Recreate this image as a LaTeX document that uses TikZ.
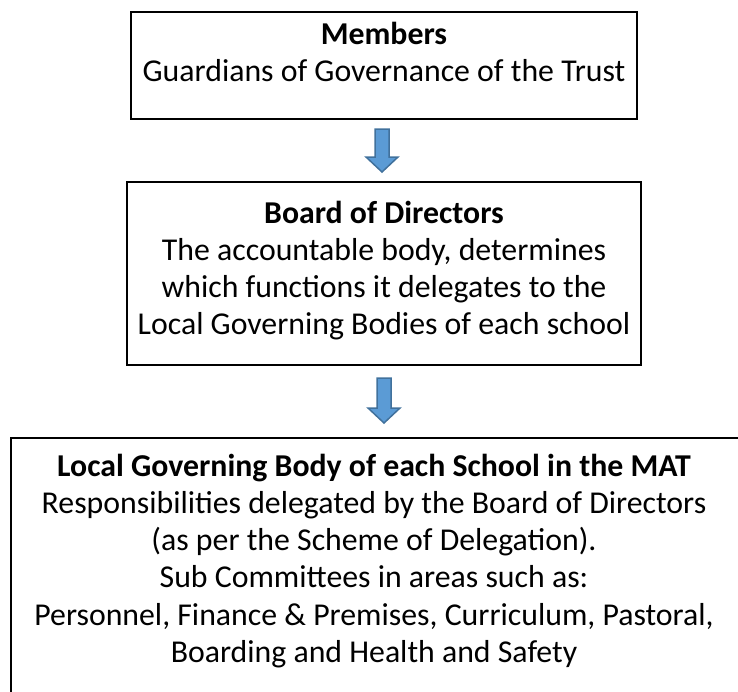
\documentclass[tikz,border=0pt]{standalone}
\usepackage{fontspec}
\setmainfont{Carlito}
\usetikzlibrary{calc}
\definecolor{arrfill}{HTML}{5B9BD5}
\definecolor{arrline}{HTML}{41719C}
\tikzset{
  box/.style={draw=black, line width=2pt, inner sep=0pt, rectangle},
  boxtext/.style={anchor=north, align=center, inner sep=0pt, font=\fontsize{31.8}{37.2}\selectfont},
  blockarrow/.style={draw=arrline, fill=arrfill, line width=1.5pt, line join=miter},
}
\begin{document}
\begin{tikzpicture}[x=1pt,y=-1pt]
\useasboundingbox (0,0) rectangle (738,691);
\begin{scope}
\clip (0,0) rectangle (738,691);
% boxes
\node[box, minimum width=506pt, minimum height=107pt] (members) at (384,65.5) {};
\node[box, minimum width=514pt, minimum height=183pt] (board) at (384,273.5) {};
\node[box, minimum width=729pt, minimum height=262pt] (lgb) at (375.5,569) {};
% texts
\node[boxtext] (memtxt) at ($(members.north)+(0,7)$)
  {\strut\textbf{Members}\\Guardians of Governance of the Trust};
\node[boxtext] (boardtxt) at ($(board.north)+(0,16)$)
  {\strut\textbf{Board of Directors}\\The accountable body, determines\\which functions it delegates to the\\Local Governing Bodies of each school};
\node[boxtext] (lgbtxt) at ($(lgb.north)+(-1.5,13)$)
  {\strut\textbf{Local Governing Body of each School in the MAT}\\Responsibilities delegated by the Board of Directors\\(as per the Scheme of Delegation).\\Sub Committees in areas such as:\\Personnel, Finance \& Premises, Curriculum, Pastoral,\\Boarding and Health and Safety};
% arrow end points
\coordinate (a1t) at ($(members.south)+(-2,9)$);
\coordinate (a1b) at ($(board.north)+(-2,-9)$);
\coordinate (a2t) at ($(board.south)+(0,12)$);
\coordinate (a2b) at ($(lgb.north)+(8.5,-14)$);
% arrows
\draw[blockarrow] ([xshift=-7pt]a1t) -- ([xshift=7pt]a1t) -- ([xshift=7pt,yshift=15pt]a1b) -- ([xshift=16pt,yshift=15pt]a1b) -- (a1b) -- ([xshift=-16pt,yshift=15pt]a1b) -- ([xshift=-7pt,yshift=15pt]a1b) -- cycle;
\draw[blockarrow] ([xshift=-7pt]a2t) -- ([xshift=7pt]a2t) -- ([xshift=7pt,yshift=15pt]a2b) -- ([xshift=16pt,yshift=15pt]a2b) -- (a2b) -- ([xshift=-16pt,yshift=15pt]a2b) -- ([xshift=-7pt,yshift=15pt]a2b) -- cycle;
\end{scope}
\end{tikzpicture}
\end{document}
